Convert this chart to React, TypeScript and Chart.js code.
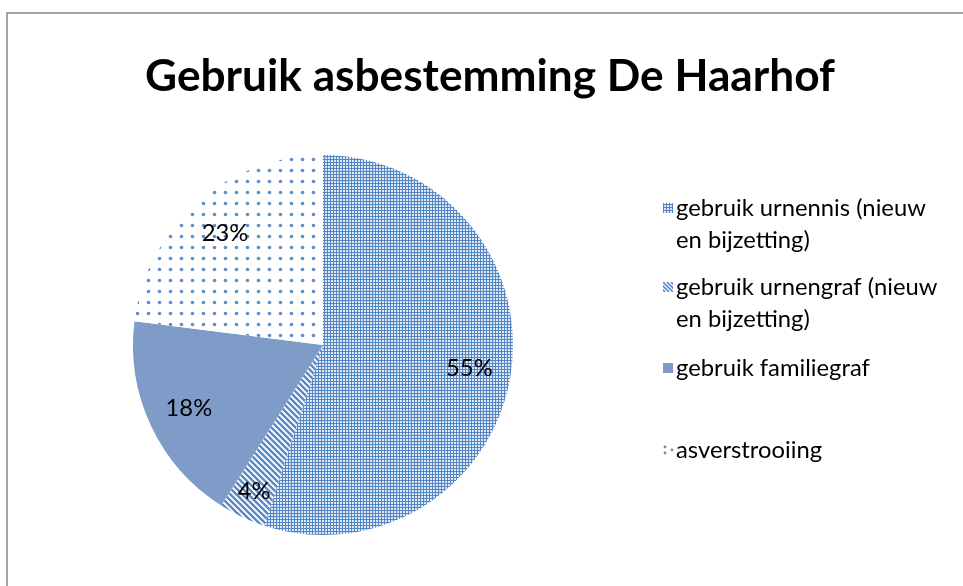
import React, { useEffect, useRef } from "react";
import { Chart, registerables } from "chart.js";

Chart.register(...registerables);

const TITLE = "Gebruik asbestemming De Haarhof";
const categories: string[][] = [
  ["gebruik urnennis (nieuw", "en bijzetting)"],
  ["gebruik urnengraf (nieuw", "en bijzetting)"],
  ["gebruik familiegraf"],
  ["asverstrooiing"],
];
const values = [55, 4, 18, 23];
const percentLabels = ["55%", "4%", "18%", "23%"];

const FONT = "Lato, 'Open Sans', sans-serif";

function makeTile(w: number, h: number, draw: (c: CanvasRenderingContext2D) => void): HTMLCanvasElement {
  const cv = document.createElement("canvas");
  cv.width = w;
  cv.height = h;
  const c = cv.getContext("2d")!;
  draw(c);
  return cv;
}

function buildPatterns(ctx: CanvasRenderingContext2D) {
  const checker = makeTile(3, 3, (c) => {
    c.fillStyle = "#5586C4";
    c.fillRect(0, 0, 3, 3);
    c.fillStyle = "#DCE6F4";
    c.fillRect(1, 1, 2, 2);
  });
  const stripes = makeTile(6, 6, (c) => {
    c.fillStyle = "#ffffff";
    c.fillRect(0, 0, 6, 6);
    c.strokeStyle = "#5A89C6";
    c.lineWidth = 2.4;
    c.beginPath();
    c.moveTo(-3, -3);
    c.lineTo(9, 9);
    c.moveTo(-3, 3);
    c.lineTo(3, 9);
    c.moveTo(3, -3);
    c.lineTo(9, 3);
    c.stroke();
  });
  const dots = makeTile(11, 11, (c) => {
    c.fillStyle = "#ffffff";
    c.fillRect(0, 0, 11, 11);
    c.fillStyle = "#5F8DCB";
    c.beginPath();
    c.arc(5.5, 5.5, 1.8, 0, Math.PI * 2);
    c.fill();
  });
  return [
    ctx.createPattern(checker, "repeat")!,
    ctx.createPattern(stripes, "repeat")!,
    "#7F9CC8",
    ctx.createPattern(dots, "repeat")!,
  ];
}

function fitFont(ctx: CanvasRenderingContext2D, text: string, weight: string, width: number) {
  ctx.font = `${weight} 100px ${FONT}`;
  const w = ctx.measureText(text).width;
  return (100 * width) / w;
}

const decorPlugin = {
  id: "decor",
  beforeDraw(chart: any) {
    const ctx = chart.ctx as CanvasRenderingContext2D;
    ctx.save();
    ctx.fillStyle = "#ffffff";
    ctx.fillRect(0, 0, chart.width, chart.height);
    ctx.strokeStyle = "#868686";
    ctx.lineWidth = 1.5;
    ctx.beginPath();
    ctx.moveTo(7, chart.height);
    ctx.lineTo(7, 13);
    ctx.lineTo(chart.width, 13);
    ctx.stroke();
    ctx.restore();
  },
  afterDraw(chart: any) {
    const ctx = chart.ctx as CanvasRenderingContext2D;
    ctx.save();
    // title
    const ts = fitFont(ctx, TITLE, "bold", 690);
    ctx.font = `bold ${ts}px ${FONT}`;
    ctx.fillStyle = "#000000";
    ctx.textAlign = "center";
    ctx.textBaseline = "alphabetic";
    ctx.fillText(TITLE, 490, 91);

    // percent labels
    const ls = fitFont(ctx, "gebruik urnennis (nieuw", "normal", 250);
    ctx.font = `normal ${ls}px ${FONT}`;
    ctx.textAlign = "center";
    ctx.textBaseline = "middle";
    const meta = chart.getDatasetMeta(0);
    meta.data.forEach((arc: any, i: number) => {
      const { startAngle, endAngle, outerRadius, x, y } = arc.getProps(
        ["startAngle", "endAngle", "outerRadius", "x", "y"],
        true
      );
      const mid = (startAngle + endAngle) / 2;
      const f = i === 1 ? 0.85 : 0.78;
      ctx.fillText(percentLabels[i], x + Math.cos(mid) * outerRadius * f, y + Math.sin(mid) * outerRadius * f);
    });

    // legend
    const fills = chart.data.datasets[0].backgroundColor;
    const rows = [[208, 240], [287, 319], [368], [450]];
    ctx.textAlign = "left";
    categories.forEach((lines, i) => {
      const ys = rows[i];
      const mx = 663;
      const my = ys[0] - 5;
      if (i === 3) {
        ctx.fillStyle = "#5F8DCB";
        [[665, my + 2], [665, my + 8], [672, my + 5]].forEach(([dx, dy]) => {
          ctx.beginPath();
          ctx.arc(dx, dy, 1.4, 0, Math.PI * 2);
          ctx.fill();
        });
      } else if (i === 1) {
        ctx.save();
        ctx.beginPath();
        ctx.rect(mx, my, 10, 10);
        ctx.clip();
        ctx.strokeStyle = "#5A89C6";
        ctx.lineWidth = 1.6;
        ctx.beginPath();
        for (let k = -12; k <= 12; k += 4) {
          ctx.moveTo(mx + k, my);
          ctx.lineTo(mx + k + 10, my + 10);
        }
        ctx.stroke();
        ctx.restore();
      } else {
        ctx.fillStyle = fills[i];
        ctx.fillRect(mx, my, 10, 10);
      }
      ctx.fillStyle = "#000000";
      lines.forEach((t, j) => ctx.fillText(t, 676, ys[j]));
    });
    ctx.restore();
  },
};

export default function App() {
  const ref = useRef<HTMLCanvasElement>(null);
  useEffect(() => {
    const canvas = ref.current!;
    const ctx = canvas.getContext("2d")!;
    const patterns = buildPatterns(ctx);
    const chart = new Chart(canvas, {
      type: "pie",
      data: {
        labels: categories.map((c) => c.join(" ")),
        datasets: [
          {
            data: values,
            backgroundColor: patterns as any,
            borderWidth: 0,
          },
        ],
      },
      options: {
        animation: false,
        responsive: false,
        maintainAspectRatio: false,
        layout: { padding: { left: 133, right: 450, top: 155, bottom: 51 } },
        plugins: {
          legend: { display: false },
          title: { display: false },
          tooltip: { enabled: false },
        },
      },
      plugins: [decorPlugin],
    });
    return () => chart.destroy();
  }, []);
  return (
    <div style={{ position: "absolute", left: 0, top: 0, width: 963, height: 586 }}>
      <canvas ref={ref} width={963} height={586} style={{ width: 963, height: 586, display: "block" }} />
    </div>
  );
}
